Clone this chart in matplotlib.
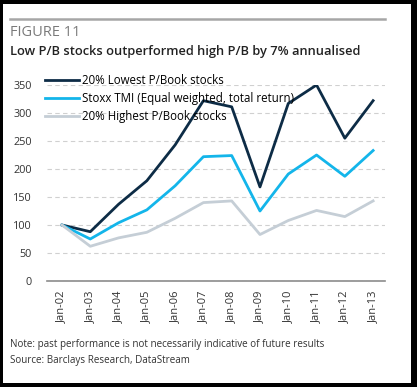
import matplotlib.pyplot as plt
from matplotlib.patches import Rectangle
from matplotlib.lines import Line2D

plt.rcParams['font.family'] = ['Open Sans', 'DejaVu Sans']

years = ['Jan-02', 'Jan-03', 'Jan-04', 'Jan-05', 'Jan-06', 'Jan-07',
         'Jan-08', 'Jan-09', 'Jan-10', 'Jan-11', 'Jan-12', 'Jan-13']
lowest_pb = [100, 88, 137, 179, 243, 322, 311, 168, 317, 350, 255, 322]
stoxx_tmi = [100, 75, 104, 127, 170, 222, 224, 125, 191, 225, 187, 233]
highest_pb = [100, 62, 77, 87, 112, 140, 143, 83, 108, 126, 115, 143]
series_names = ['20% Lowest P/Book stocks',
                'Stoxx TMI (Equal weighted, total return)',
                '20% Highest P/Book stocks']

W, H = 417, 387
fig = plt.figure(figsize=(W / 100, H / 100), dpi=100)
fig.patch.set_facecolor('black')
fig.add_artist(Rectangle((3 / W, 4 / H), 408 / W, 379 / H,
                         transform=fig.transFigure, facecolor='white',
                         edgecolor='none', zorder=-10))

# top rule
fig.add_artist(Line2D([10 / W, 385 / W], [1 - 19 / H, 1 - 19 / H],
                      color='#a6a6a6', lw=1.8))
fig.text(10 / W, 1 - 33 / H, 'FIGURE 11', fontsize=10.5, color='#7a7a7a',
         va='center', ha='left')
fig.text(10 / W, 1 - 52 / H,
         'Low P/B stocks outperformed high P/B by 7% annualised',
         fontsize=9.3, color='#222222', fontweight='semibold',
         va='center', ha='left')

ax = fig.add_axes([47 / W, 1 - 281 / H, 338 / W, 196 / H])
ax.patch.set_alpha(0)
x = list(range(len(years)))
colors = ['#0d2c46', '#13b5ea', '#c5ced6']
for vals, name, c in zip([lowest_pb, stoxx_tmi, highest_pb], series_names, colors):
    ax.plot(x, vals, color=c, lw=2.0, label=name)

ax.set_xlim(-0.53, 11.42)
ax.set_ylim(0, 350)
ax.set_yticks(range(0, 351, 50))
ax.set_xticks(x)
ax.set_xticklabels(years, rotation=90)
ax.tick_params(axis='y', length=0, labelsize=7.8, colors='#333333', pad=11)
ax.tick_params(axis='x', length=0, labelsize=8, colors='#333333', pad=7)
ax.yaxis.grid(True, linestyle=(0, (4, 3)), color='#d0d0d0', lw=0.8)
ax.set_axisbelow(True)
for s in ['top', 'right', 'left']:
    ax.spines[s].set_visible(False)
ax.spines['bottom'].set_color('#8c8c8c')
ax.spines['bottom'].set_linewidth(1.2)

ax.legend(loc='upper left', bbox_to_anchor=(-0.02, 1.08), frameon=False,
          fontsize=8.3, handlelength=3.0, handletextpad=0.25, labelspacing=0.45,
          borderaxespad=0)

fig.text(10 / W, 1 - 345 / H,
         'Note: past performance is not necessarily indicative of future results',
         fontsize=7.1, color='#333333', va='center', ha='left')
fig.text(10 / W, 1 - 360 / H, 'Source: Barclays Research, DataStream',
         fontsize=7.1, color='#333333', va='center', ha='left')

fig.savefig('out.png', dpi=100, facecolor=fig.get_facecolor())
